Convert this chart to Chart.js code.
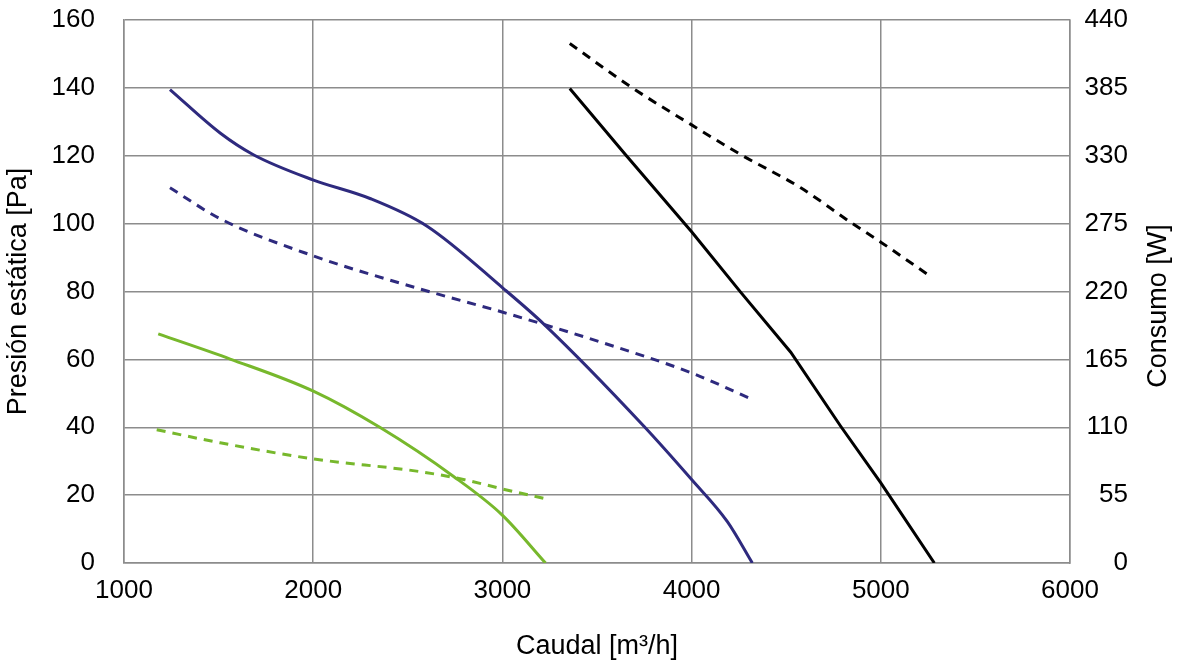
<!DOCTYPE html>
<html>
<head>
<meta charset="utf-8">
<script src="https://cdn.jsdelivr.net/npm/chart.js"></script>
<style>
	html, body { margin: 0; padding: 0; background: #fff; }
	#wrap { width: 1177px; height: 667px; }
</style>
</head>
<body>
<div id="wrap"><canvas id="myChart" width="1177" height="667"></canvas></div>
<script>
// caudal [m3/h] y presion [Pa] (lineas continuas), consumo [W] (discontinuas)
let greenFlow = [1181, 1561, 1998, 2354, 2742, 2998, 3228];
let greenPressure = [67.5, 60.1, 50.7, 39.9, 25.5, 14.2, 0];
let greenPowerFlow = [1173, 1508, 1998, 2566, 2800, 3000, 3228];
let greenPower = [108, 97.4, 84.4, 74, 67.5, 60, 52];

let blueFlow = [1243, 1508, 1684, 1998, 2300, 2600, 3007, 3219, 3748, 4000, 4189, 4321];
let bluePressure = [139.5, 126.7, 120.3, 112.9, 107.4, 99.3, 80.8, 70.4, 40.3, 24.6, 12.2, 0];
let bluePowerFlow = [1243, 1508, 1998, 2566, 3007, 3519, 4000, 4330];
let bluePower = [304, 279, 249, 222, 203, 179, 154, 132];

let blackFlow = [3356, 3651, 4000, 4259, 4524, 4788, 5000, 5283];
let blackPressure = [139.8, 120.3, 97.6, 79.8, 62.1, 40.3, 23.6, 0];
let blackPowerFlow = [3356, 3677, 4000, 4259, 4577, 4841, 5000, 5265];
let blackPower = [421, 386, 355, 331, 304, 276, 260, 232];

let xTicks = [1000, 2000, 3000, 4000, 5000, 6000];
let pressureTicks = [0, 20, 40, 60, 80, 100, 120, 140, 160];
let powerTicks = [0, 55, 110, 165, 220, 275, 330, 385, 440];

let green = '#77b82c', blue = '#2e2a7e', black = '#000000';
let gridColor = '#8c8c8c';
let fontFamily = '"Liberation Sans", Arial, sans-serif';

function pts(xs, ys){
	let out = [];
	for(let i = 0; i < xs.length; i++){
		out.push({x: xs[i], y: ys[i]});
	}
	return out;
}

function serie(label, xs, ys, color, axis, dashed, straight){
	return {
		label: label,
		data: pts(xs, ys),
		yAxisID: axis,
		borderColor: color,
		borderWidth: 3,
		borderDash: dashed ? [9, 7] : [],
		pointRadius: 0,
		fill: false,
		tension: straight ? 0 : 0.4,
		cubicInterpolationMode: straight ? 'default' : 'monotone'
	};
}

// el titulo derecho va de abajo hacia arriba, Chart.js lo gira al reves
let rightTitle = {
	id: 'rightTitle',
	afterDraw: function(chart){
		let c = chart.ctx;
		c.save();
		c.translate(1159, 306);
		c.rotate(-Math.PI / 2);
		c.font = '27px ' + fontFamily;
		c.fillStyle = '#000';
		c.textAlign = 'center';
		c.textBaseline = 'middle';
		c.fillText('Consumo [W]', 0, 0);
		c.restore();
	}
};

let ctx = document.getElementById('myChart').getContext('2d');
let chart = new Chart(ctx, {
	type: 'line',
	data: {
		datasets: [
			serie('green p', greenFlow, greenPressure, green, 'y', false, false),
			serie('green w', greenPowerFlow, greenPower, green, 'y1', true, false),
			serie('blue p', blueFlow, bluePressure, blue, 'y', false, false),
			serie('blue w', bluePowerFlow, bluePower, blue, 'y1', true, false),
			serie('black p', blackFlow, blackPressure, black, 'y', false, true),
			serie('black w', blackPowerFlow, blackPower, black, 'y1', true, false)
		]
	},
	options: {
		responsive: false,
		animation: false,
		layout: { padding: { top: 20, right: 49 } },
		plugins: {
			legend: { display: false },
			tooltip: { enabled: false }
		},
		scales: {
			x: {
				type: 'linear',
				min: xTicks[0],
				max: xTicks[xTicks.length - 1],
				afterBuildTicks: function(s){ s.ticks = xTicks.map(v => ({value: v})); },
				afterFit: function(s){ s.height = 104; },
				grid: { color: gridColor, lineWidth: 1.5, drawTicks: false },
				border: { color: gridColor, width: 1.5 },
				ticks: { color: '#000', padding: 12, maxRotation: 0, callback: v => String(v), font: { family: fontFamily, size: 26 } },
				title: { display: true, text: 'Caudal [m³/h]', color: '#000', padding: { top: 0, bottom: 4 }, font: { family: fontFamily, size: 27 } }
			},
			y: {
				position: 'left',
				min: 0,
				max: 160,
				afterBuildTicks: function(s){ s.ticks = pressureTicks.map(v => ({value: v})); },
				afterFit: function(s){ s.width = 124; },
				grid: { color: gridColor, lineWidth: 1.5, drawTicks: true, tickLength: 29, tickColor: 'rgba(0,0,0,0)' },
				border: { color: gridColor, width: 1.5 },
				ticks: { color: '#000', padding: 0, font: { family: fontFamily, size: 26 } },
				title: { display: true, text: 'Presión estática [Pa]', color: '#000', padding: { top: 2, bottom: 0 }, font: { family: fontFamily, size: 27 } }
			},
			y1: {
				position: 'right',
				min: 0,
				max: 440,
				afterBuildTicks: function(s){ s.ticks = powerTicks.map(v => ({value: v})); },
				afterFit: function(s){ s.width = 58; },
				grid: { drawOnChartArea: false, drawTicks: false },
				border: { color: gridColor, width: 1.5 },
				ticks: { color: '#000', padding: 0, crossAlign: 'far', font: { family: fontFamily, size: 26 } }
			}
		}
	},
	plugins: [rightTitle]
});
</script>
</body>
</html>
